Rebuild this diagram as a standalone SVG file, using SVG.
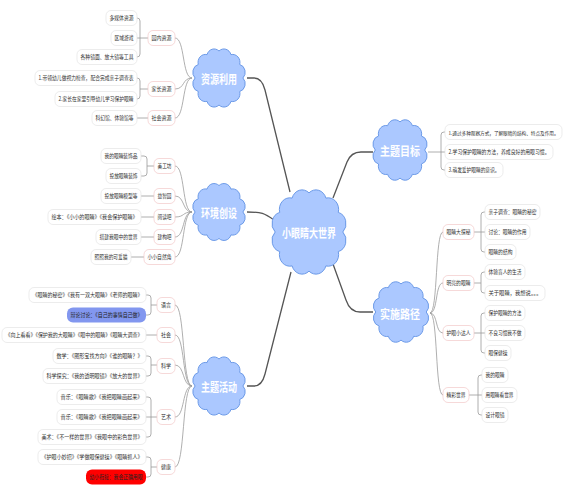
<svg xmlns="http://www.w3.org/2000/svg" xmlns:xlink="http://www.w3.org/1999/xlink" width="572" height="494" viewBox="0 0 572 494">
<style>
text{font-family:"Noto Sans CJK SC","Noto Sans",sans-serif;}
.t{font-size:5.6px;fill:#333;text-anchor:middle;dominant-baseline:central;}
.ct{font-size:12px;font-weight:bold;fill:#fff;text-anchor:middle;dominant-baseline:central;}
.leaf{fill:#fff;stroke:#e4e4e4;stroke-width:0.7;}
.sub{fill:#fff;stroke:#f2c8c8;stroke-width:0.7;}
.blue{fill:#8297ef;stroke:none;}
.red{fill:#ff0000;stroke:none;}
.thin{fill:none;stroke:#9a9a9a;stroke-width:0.8;}
.main{fill:none;stroke:#555;stroke-width:1.3;}
.cloud{fill:#abc8ff;stroke:#6d9be8;stroke-width:1;}
</style>
<defs>
<path id="cloudShape" vector-effect="non-scaling-stroke" d="M26,0 A8,8 0 0 1 22.52,13.5 A8,8 0 0 1 13,23.38 A8,8 0 0 1 0,27 A8,8 0 0 1 -13,23.38 A8,8 0 0 1 -22.52,13.5 A8,8 0 0 1 -26,0 A8,8 0 0 1 -22.52,-13.5 A8,8 0 0 1 -13,-23.38 A8,8 0 0 1 0,-27 A8,8 0 0 1 13,-23.38 A8,8 0 0 1 22.52,-13.5 A8,8 0 0 1 26,0 Z"/>
</defs>
<rect width="572" height="494" fill="#fff"/>

<g id="connectors">
<path class="main" d="M247,78 L254,78 Q262,78 265,90 L290,192"/>
<path class="main" d="M247,212 C262,212 264,213 274,220"/>
<path class="main" d="M247,386 L254,386 Q262,386 265,374 L291,272"/>
<path class="main" d="M333,198 L347,162 Q351,152 361,152 L373,152"/>
<path class="main" d="M333,264 L346,300 Q350,312 360,312 L373,312"/>

<path class="thin" d="M192,78 C182,78 185,38 175,38"/>
<path class="thin" d="M192,78 C182,78 185,89 175,89"/>
<path class="thin" d="M192,78 C182,78 185,118 175,118"/>
<path class="thin" d="M148,38 L137,38 M137,18 Q140,18 140,21 L140,54 Q140,57 137,57"/>
<path class="thin" d="M148,89 L140,89 M137,78 Q140,78 140,81 L140,96 Q140,99 137,99"/>
<path class="thin" d="M148,118 L137,118"/>

<path class="thin" d="M192,212 C182,212 185,166 175,166"/>
<path class="thin" d="M192,212 C182,212 185,196 175,196"/>
<path class="thin" d="M192,212 C182,212 185,217 175,217"/>
<path class="thin" d="M192,212 C182,212 185,237 175,237"/>
<path class="thin" d="M192,212 C182,212 185,257 175,257"/>
<path class="thin" d="M154,166 L147,166 M141,156 L144,156 Q147,156 147,159 L147,173 Q147,176 144,176 L141,176"/>
<path class="thin" d="M141,196 L154,196 M141,217 L154,217 M141,237 L154,237 M131,257 L144,257"/>

<path class="thin" d="M192,386 C182,386 185,305 175,305"/>
<path class="thin" d="M192,386 C182,386 185,335 175,335"/>
<path class="thin" d="M192,386 C182,386 185,365 175,365"/>
<path class="thin" d="M192,386 C182,386 185,417 175,417"/>
<path class="thin" d="M192,386 C182,386 185,467 175,467"/>
<path class="thin" d="M157,305 L151,305 M146,295 L148,295 Q151,295 151,298 L151,312 Q151,315 148,315 L146,315"/>
<path class="thin" d="M146,335 L157,335"/>
<path class="thin" d="M157,365 L151,365 M146,356 L148,356 Q151,356 151,359 L151,373 Q151,376 148,376 L146,376"/>
<path class="thin" d="M157,417 L146,417 M146,397 L148,397 Q151,397 151,400 L151,434 Q151,437 148,437 L146,437"/>
<path class="thin" d="M157,467 L151,467 M146,457 L148,457 Q151,457 151,460 L151,474 Q151,477 148,477 L146,477"/>

<path class="thin" d="M428,152 L445,152 M445,132 L444,132 Q441,132 441,135 L441,167 Q441,170 444,170 L445,170"/>

<path class="thin" d="M430,313 C438,313 435,232 443,232"/>
<path class="thin" d="M430,313 C438,313 435,283 443,283"/>
<path class="thin" d="M430,313 C438,313 435,333 443,333"/>
<path class="thin" d="M430,313 C438,313 435,395 443,395"/>
<path class="thin" d="M474,232 L485,232 M485,212 L484,212 Q481,212 481,215 L481,249 Q481,252 484,252 L485,252"/>
<path class="thin" d="M474,283 L481,283 M485,272 L484,272 Q481,272 481,275 L481,290 Q481,293 484,293 L485,293"/>
<path class="thin" d="M474,333 L485,333 M485,313 L484,313 Q481,313 481,316 L481,350 Q481,353 484,353 L485,353"/>
<path class="thin" d="M469,395 L482,395 M482,375 L481,375 Q478,375 478,378 L478,412 Q478,415 481,415 L482,415"/>
</g>

<g id="center"><use href="#cloudShape" class="cloud" transform="translate(309,232) scale(1.3,1.45)"/><text class="ct" x="309" y="232" textLength="54" lengthAdjust="spacingAndGlyphs">小眼睛大世界</text></g>
<g id="ziyuan"><use href="#cloudShape" class="cloud" transform="translate(219,78) scale(0.92,1)"/><text class="ct" x="219" y="78" textLength="36" lengthAdjust="spacingAndGlyphs">资源利用</text></g>
<g id="huanjing"><use href="#cloudShape" class="cloud" transform="translate(219,212) scale(0.92,0.98)"/><text class="ct" x="219" y="212" textLength="36" lengthAdjust="spacingAndGlyphs">环境创设</text></g>
<g id="huodong"><use href="#cloudShape" class="cloud" transform="translate(219,386) scale(0.92,1)"/><text class="ct" x="219" y="386" textLength="36" lengthAdjust="spacingAndGlyphs">主题活动</text></g>
<g id="mubiao"><use href="#cloudShape" class="cloud" transform="translate(400,150) scale(0.95,1.04)"/><text class="ct" x="400" y="150" textLength="40" lengthAdjust="spacingAndGlyphs">主题目标</text></g>
<g id="lujing"><use href="#cloudShape" class="cloud" transform="translate(401,312) scale(0.97,1.04)"/><text class="ct" x="400" y="313" textLength="40" lengthAdjust="spacingAndGlyphs">实施路径</text></g>

<g id="s-yuannei"><rect class="sub" x="148" y="30.5" width="27" height="15" rx="5"/><text class="t" x="161.5" y="38" textLength="20" lengthAdjust="spacingAndGlyphs">园内资源</text></g>
<g id="l-duomeiti"><rect class="leaf" x="106" y="10.5" width="31" height="15" rx="5"/><text class="t" x="121.5" y="18" textLength="24" lengthAdjust="spacingAndGlyphs">多媒体资源</text></g>
<g id="l-quyu"><rect class="leaf" x="111" y="30.5" width="26" height="15" rx="5"/><text class="t" x="124" y="38" textLength="19" lengthAdjust="spacingAndGlyphs">区域游戏</text></g>
<g id="l-jingzi"><rect class="leaf" x="77" y="49.5" width="60" height="15" rx="5"/><text class="t" x="107" y="57" textLength="53" lengthAdjust="spacingAndGlyphs">各种镜面、放大镜等工具</text></g>
<g id="s-jiazhang"><rect class="sub" x="148" y="81.5" width="27" height="15" rx="5"/><text class="t" x="161.5" y="89" textLength="20" lengthAdjust="spacingAndGlyphs">家长资源</text></g>
<g id="l-jz1"><rect class="leaf" x="35" y="70.5" width="102" height="15" rx="5"/><text class="t" x="86" y="78" textLength="95" lengthAdjust="spacingAndGlyphs">1.带领幼儿做视力检查，配合完成亲子调查表</text></g>
<g id="l-jz2"><rect class="leaf" x="55" y="91.5" width="82" height="15" rx="5"/><text class="t" x="96" y="99" textLength="75" lengthAdjust="spacingAndGlyphs">2.家长在家里引导幼儿学习保护眼睛</text></g>
<g id="s-shehui"><rect class="sub" x="148" y="110.5" width="27" height="15" rx="5"/><text class="t" x="161.5" y="118" textLength="20" lengthAdjust="spacingAndGlyphs">社会资源</text></g>
<g id="l-sh1"><rect class="leaf" x="92" y="110.5" width="45" height="15" rx="5"/><text class="t" x="114.5" y="118" textLength="38" lengthAdjust="spacingAndGlyphs">科幻馆、体验馆等</text></g>

<g id="s-meigong"><rect class="sub" x="154" y="158.5" width="21" height="15" rx="5"/><text class="t" x="164.5" y="166" textLength="14" lengthAdjust="spacingAndGlyphs">美工坊</text></g>
<g id="l-mg1"><rect class="leaf" x="101" y="148.5" width="40" height="15" rx="5"/><text class="t" x="121" y="156" textLength="33" lengthAdjust="spacingAndGlyphs">我的眼睛装饰品</text></g>
<g id="l-mg2"><rect class="leaf" x="106" y="168.5" width="35" height="15" rx="5"/><text class="t" x="123.5" y="176" textLength="28" lengthAdjust="spacingAndGlyphs">投放眼睛装饰</text></g>
<g id="s-yizhi"><rect class="sub" x="154" y="188.5" width="21" height="15" rx="5"/><text class="t" x="164.5" y="196" textLength="14" lengthAdjust="spacingAndGlyphs">益智园</text></g>
<g id="l-yz1"><rect class="leaf" x="101" y="188.5" width="40" height="15" rx="5"/><text class="t" x="121" y="196" textLength="33" lengthAdjust="spacingAndGlyphs">投放眼睛模型等</text></g>
<g id="s-yuedu"><rect class="sub" x="154" y="209.5" width="21" height="15" rx="5"/><text class="t" x="164.5" y="217" textLength="14" lengthAdjust="spacingAndGlyphs">阅读吧</text></g>
<g id="l-yd1"><rect class="leaf" x="48" y="209.5" width="93" height="15" rx="5"/><text class="t" x="94.5" y="217" textLength="86" lengthAdjust="spacingAndGlyphs">绘本：《小小的眼睛》《我会保护眼睛》</text></g>
<g id="s-jiangou"><rect class="sub" x="154" y="229.5" width="21" height="15" rx="5"/><text class="t" x="164.5" y="237" textLength="14" lengthAdjust="spacingAndGlyphs">建构吧</text></g>
<g id="l-jg1"><rect class="leaf" x="96" y="229.5" width="45" height="15" rx="5"/><text class="t" x="118.5" y="237" textLength="38" lengthAdjust="spacingAndGlyphs">搭建我眼中的世界</text></g>
<g id="s-ziran"><rect class="sub" x="144" y="249.5" width="31" height="15" rx="5"/><text class="t" x="159.5" y="257" textLength="24" lengthAdjust="spacingAndGlyphs">小小自然角</text></g>
<g id="l-zr1"><rect class="leaf" x="91" y="249.5" width="40" height="15" rx="5"/><text class="t" x="111" y="257" textLength="33" lengthAdjust="spacingAndGlyphs">照照我的可爱猫</text></g>

<g id="s-yuyan"><rect class="sub" x="157" y="297.5" width="18" height="15" rx="5"/><text class="t" x="166" y="305" textLength="10" lengthAdjust="spacingAndGlyphs">语言</text></g>
<g id="l-yy1"><rect class="leaf" x="29" y="287.5" width="117" height="15" rx="5"/><text class="t" x="87.5" y="295" textLength="110" lengthAdjust="spacingAndGlyphs">《眼睛的秘密》《我有一双大眼睛》《老师的眼睛》</text></g>
<g id="l-yy2"><rect class="blue" x="67" y="307.5" width="79" height="15" rx="6"/><text class="t" x="106.5" y="315" textLength="72" lengthAdjust="spacingAndGlyphs" style="fill:#222">辩论讨论：《自己的事情自己做》</text></g>
<g id="s-shehui2"><rect class="sub" x="157" y="327.5" width="18" height="15" rx="5"/><text class="t" x="166" y="335" textLength="10" lengthAdjust="spacingAndGlyphs">社会</text></g>
<g id="l-sh2"><rect class="leaf" x="2" y="327.5" width="144" height="15" rx="5"/><text class="t" x="74" y="335" textLength="137" lengthAdjust="spacingAndGlyphs">《向上看看》《保护我的大眼睛》《眼中的眼睛》《眼睛大调查》</text></g>
<g id="s-kexue"><rect class="sub" x="157" y="358.5" width="18" height="15" rx="5"/><text class="t" x="166" y="366" textLength="10" lengthAdjust="spacingAndGlyphs">科学</text></g>
<g id="l-kx1"><rect class="leaf" x="53" y="348.5" width="93" height="15" rx="5"/><text class="t" x="99.5" y="356" textLength="86" lengthAdjust="spacingAndGlyphs">数学：《图形宝找方向》《谁的眼睛？》</text></g>
<g id="l-kx2"><rect class="leaf" x="43" y="368.5" width="103" height="15" rx="5"/><text class="t" x="94.5" y="376" textLength="96" lengthAdjust="spacingAndGlyphs">科学探究：《我的透明眼镜》《放大的世界》</text></g>
<g id="s-yishu"><rect class="sub" x="157" y="409.5" width="18" height="15" rx="5"/><text class="t" x="166" y="417" textLength="10" lengthAdjust="spacingAndGlyphs">艺术</text></g>
<g id="l-ys1"><rect class="leaf" x="57" y="389.5" width="89" height="15" rx="5"/><text class="t" x="101.5" y="397" textLength="82" lengthAdjust="spacingAndGlyphs">音乐：《眼睛歌》《我把眼睛画起来》</text></g>
<g id="l-ys2"><rect class="leaf" x="57" y="409.5" width="89" height="15" rx="5"/><text class="t" x="101.5" y="417" textLength="82" lengthAdjust="spacingAndGlyphs">音乐：《眼睛歌》《我把眼睛画起来》</text></g>
<g id="l-ys3"><rect class="leaf" x="38" y="429.5" width="108" height="15" rx="5"/><text class="t" x="92" y="437" textLength="101" lengthAdjust="spacingAndGlyphs">美术：《不一样的世界》《我眼中的彩色世界》</text></g>
<g id="s-jiankang"><rect class="sub" x="157" y="459.5" width="18" height="15" rx="5"/><text class="t" x="166" y="467" textLength="10" lengthAdjust="spacingAndGlyphs">健康</text></g>
<g id="l-jk1"><rect class="leaf" x="38" y="449.5" width="108" height="15" rx="5"/><text class="t" x="92" y="457" textLength="101" lengthAdjust="spacingAndGlyphs">《护眼小妙招》《学做眼保健操》《眼睛抓人》</text></g>
<g id="l-jk2"><rect class="red" x="86" y="469.5" width="60" height="15" rx="6"/><text class="t" x="116" y="477" textLength="53" lengthAdjust="spacingAndGlyphs" style="fill:#222">幼小衔接：我会正确用眼</text></g>

<g id="l-mb1"><rect class="leaf" x="445" y="124.5" width="117" height="15" rx="5"/><text class="t" x="503.5" y="132" textLength="110" lengthAdjust="spacingAndGlyphs" style="font-size:5px">1.通过多种观察方式，了解眼睛的结构、特点及作用。</text></g>
<g id="l-mb2"><rect class="leaf" x="445" y="144.5" width="108" height="15" rx="5"/><text class="t" x="499" y="152" textLength="101" lengthAdjust="spacingAndGlyphs">2.学习保护眼睛的方法，养成良好的用眼习惯。</text></g>
<g id="l-mb3"><rect class="leaf" x="445" y="162.5" width="58" height="15" rx="5"/><text class="t" x="474" y="170" textLength="51" lengthAdjust="spacingAndGlyphs">3.萌发爱护眼睛的意识。</text></g>

<g id="s-tanmi"><rect class="sub" x="443" y="224.5" width="31" height="15" rx="5"/><text class="t" x="458.5" y="232" textLength="24" lengthAdjust="spacingAndGlyphs">眼睛大探秘</text></g>
<g id="l-tm1"><rect class="leaf" x="485" y="204.5" width="55" height="15" rx="5"/><text class="t" x="512.5" y="212" textLength="48" lengthAdjust="spacingAndGlyphs">亲子调查：眼睛的秘密</text></g>
<g id="l-tm2"><rect class="leaf" x="485" y="224.5" width="45" height="15" rx="5"/><text class="t" x="507.5" y="232" textLength="38" lengthAdjust="spacingAndGlyphs">讨论：眼睛的作用</text></g>
<g id="l-tm3"><rect class="leaf" x="485" y="244.5" width="31" height="15" rx="5"/><text class="t" x="500.5" y="252" textLength="24" lengthAdjust="spacingAndGlyphs">眼睛的结构</text></g>
<g id="s-mingliang"><rect class="sub" x="443" y="275.5" width="31" height="15" rx="5"/><text class="t" x="458.5" y="283" textLength="24" lengthAdjust="spacingAndGlyphs">明亮的眼睛</text></g>
<g id="l-ml1"><rect class="leaf" x="485" y="264.5" width="40" height="15" rx="5"/><text class="t" x="505" y="272" textLength="33" lengthAdjust="spacingAndGlyphs">体验盲人的生活</text></g>
<g id="l-ml2"><rect class="leaf" x="485" y="285.5" width="60" height="15" rx="5"/><text class="t" x="515" y="293" textLength="53" lengthAdjust="spacingAndGlyphs">关于眼睛，我想说。。。</text></g>
<g id="s-huyan"><rect class="sub" x="443" y="325.5" width="31" height="15" rx="5"/><text class="t" x="458.5" y="333" textLength="24" lengthAdjust="spacingAndGlyphs">护眼小达人</text></g>
<g id="l-hy1"><rect class="leaf" x="485" y="305.5" width="40" height="15" rx="5"/><text class="t" x="505" y="313" textLength="33" lengthAdjust="spacingAndGlyphs">保护眼睛的方法</text></g>
<g id="l-hy2"><rect class="leaf" x="485" y="325.5" width="40" height="15" rx="5"/><text class="t" x="505" y="333" textLength="33" lengthAdjust="spacingAndGlyphs">不良习惯我不做</text></g>
<g id="l-hy3"><rect class="leaf" x="485" y="345.5" width="26" height="15" rx="5"/><text class="t" x="498" y="353" textLength="19" lengthAdjust="spacingAndGlyphs">眼保健操</text></g>
<g id="s-jingcai"><rect class="sub" x="443" y="387.5" width="26" height="15" rx="5"/><text class="t" x="456" y="395" textLength="19" lengthAdjust="spacingAndGlyphs">精彩世界</text></g>
<g id="l-jc1"><rect class="leaf" x="482" y="367.5" width="26" height="15" rx="5"/><text class="t" x="495" y="375" textLength="19" lengthAdjust="spacingAndGlyphs">我的眼睛</text></g>
<g id="l-jc2"><rect class="leaf" x="482" y="387.5" width="35" height="15" rx="5"/><text class="t" x="499.5" y="395" textLength="28" lengthAdjust="spacingAndGlyphs">用眼睛看世界</text></g>
<g id="l-jc3"><rect class="leaf" x="482" y="407.5" width="26" height="15" rx="5"/><text class="t" x="495" y="415" textLength="19" lengthAdjust="spacingAndGlyphs">设计眼镜</text></g>
</svg>
